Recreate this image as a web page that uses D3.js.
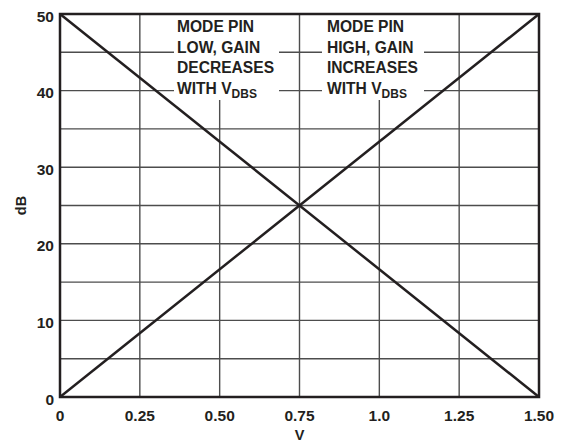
<!DOCTYPE html>
<html>
<head>
<meta charset="utf-8">
<script src="https://cdn.jsdelivr.net/npm/d3@7"></script>
<style>
  html, body { margin: 0; padding: 0; background: #fff; }
  svg { display: block; }
  text { font-family: "Liberation Sans", Arial, Helvetica, sans-serif; font-weight: bold; fill: #231f20; }
</style>
</head>
<body>
<svg id="chart" width="563" height="442"></svg>
<script>
// Gain vs control voltage for the two MODE pin settings
const xTicks = [0, 0.25, 0.5, 0.75, 1.0, 1.25, 1.5];
const xTickLabels = ["0", "0.25", "0.50", "0.75", "1.0", "1.25", "1.50"];
const yTicks = [0, 10, 20, 30, 40, 50];
const yGrid = [5, 10, 15, 20, 25, 30, 35, 40, 45];
const vDecrease = [0, 1.5];
const gainDecrease = [50, 0];
const vIncrease = [0, 1.5];
const gainIncrease = [0, 50];
const noteLow = ["MODE PIN", "LOW, GAIN", "DECREASES", "WITH V"];
const noteHigh = ["MODE PIN", "HIGH, GAIN", "INCREASES", "WITH V"];
const noteSub = "DBS";

const svg = d3.select("#chart");
const margin = { left: 60, right: 24, top: 14, bottom: 45 };
const W = 563, H = 442;
const x = d3.scaleLinear().domain([0, 1.5]).range([margin.left, W - margin.right]);
const y = d3.scaleLinear().domain([0, 50]).range([H - margin.bottom, margin.top]);

const ink = "#231f20";
const gridCol = "#4d4d4d";

// grid
const grid = svg.append("g");
grid.selectAll("line.h").data(yGrid).join("line")
  .attr("x1", x(0)).attr("x2", x(1.5))
  .attr("y1", d => y(d)).attr("y2", d => y(d))
  .attr("stroke", gridCol).attr("stroke-width", 1.4);
grid.selectAll("line.v").data(xTicks.slice(1, -1)).join("line")
  .attr("x1", d => x(d)).attr("x2", d => x(d))
  .attr("y1", y(0)).attr("y2", y(50))
  .attr("stroke", gridCol).attr("stroke-width", 1.4);

// white panels behind the notes
const boxTop = y(50);
const boxBottom = 100;
svg.append("rect").attr("x", 174).attr("y", boxTop).attr("width", 105).attr("height", boxBottom - boxTop).attr("fill", "#fff");
svg.append("rect").attr("x", 322).attr("y", boxTop).attr("width", 102).attr("height", boxBottom - boxTop).attr("fill", "#fff");

// frame
svg.append("rect")
  .attr("x", x(0)).attr("y", y(50))
  .attr("width", x(1.5) - x(0)).attr("height", y(0) - y(50))
  .attr("fill", "none").attr("stroke", ink).attr("stroke-width", 2.5);

// gain curves
const line = d3.line().x(d => x(d[0])).y(d => y(d[1]));
svg.append("path").datum(d3.zip(vDecrease, gainDecrease)).attr("d", line)
  .attr("fill", "none").attr("stroke", ink).attr("stroke-width", 2.5);
svg.append("path").datum(d3.zip(vIncrease, gainIncrease)).attr("d", line)
  .attr("fill", "none").attr("stroke", ink).attr("stroke-width", 2.5);

// tick labels
svg.append("g").selectAll("text").data(xTicks).join("text")
  .attr("x", d => x(d)).attr("y", y(0) + 23.5)
  .attr("text-anchor", "middle").attr("font-size", 15.5)
  .text((d, i) => xTickLabels[i]);
svg.append("g").selectAll("text").data(yTicks).join("text")
  .attr("x", x(0) - 6).attr("y", d => y(d) + 7.5)
  .attr("text-anchor", "end").attr("font-size", 15.5)
  .text(d => d);

// axis titles
svg.append("text").attr("x", x(0.75)).attr("y", 440).attr("text-anchor", "middle")
  .attr("font-size", 14.5).text("V");
svg.append("text").attr("transform", `translate(26,${(y(0) + y(50)) / 2}) rotate(-90)`)
  .attr("text-anchor", "middle").attr("font-size", 14.5).text("dB");

// notes
function note(lines, left) {
  const t = svg.append("g");
  lines.forEach((s, i) => {
    const tx = t.append("text").attr("x", left).attr("y", 32 + i * 20.6).attr("font-size", 15.6).text(s);
    if (i === lines.length - 1) {
      tx.append("tspan").attr("dy", 4).attr("font-size", 12).text(noteSub);
    }
  });
}
note(noteLow, 177);
note(noteHigh, 327);
</script>
</body>
</html>
